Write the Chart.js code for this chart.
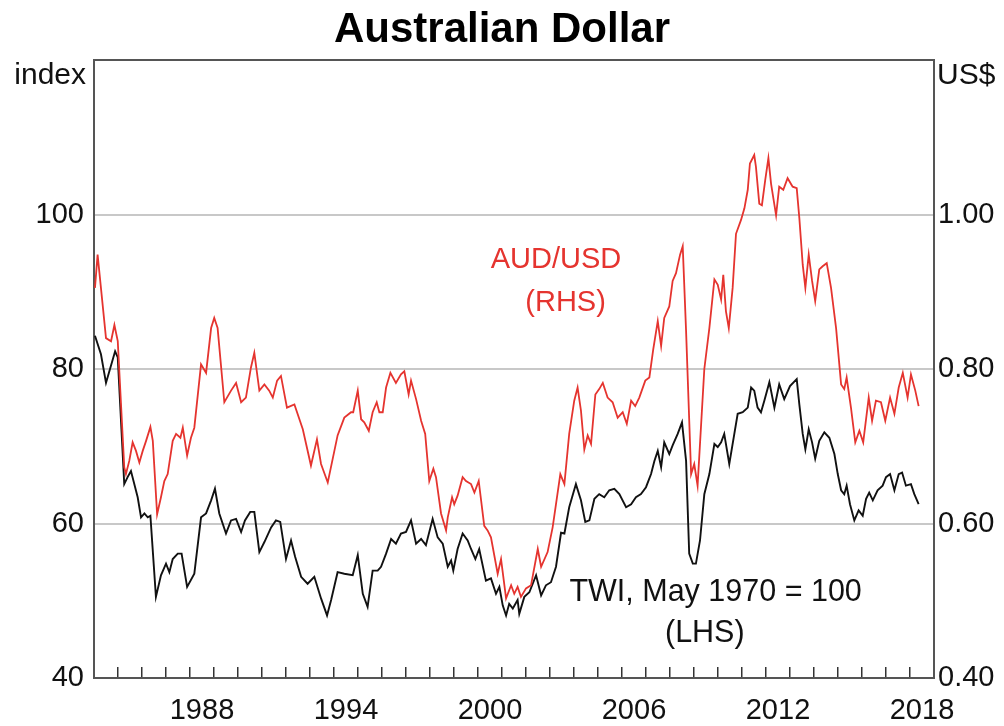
<!DOCTYPE html>
<html>
<head>
<meta charset="utf-8">
<script src="https://cdn.jsdelivr.net/npm/chart.js@4/dist/chart.umd.min.js"></script>
<style>
    body { margin: 0; background: #fff; }
    #wrap { width: 1004px; height: 726px; position: relative; }
</style>
</head>
<body>
<div id="wrap"><canvas id="chart"></canvas></div>
<script>
// 豪ドル（AUD/USD, 右軸）
const audDates = [
    1984.04, 1984.15, 1984.50, 1984.71, 1984.85, 1984.99, 1985.26, 1985.33, 1985.47, 1985.61,
    1985.75, 1985.89, 1986.03, 1986.17, 1986.35, 1986.45, 1986.63, 1986.79, 1986.93, 1987.07,
    1987.28, 1987.42, 1987.60, 1987.70, 1987.88, 1988.04, 1988.18, 1988.46, 1988.67, 1988.88,
    1989.01, 1989.15, 1989.43, 1989.71, 1989.92, 1990.13, 1990.33, 1990.54, 1990.68, 1990.89,
    1991.10, 1991.30, 1991.45, 1991.63, 1991.79, 1992.04, 1992.35, 1992.70, 1993.04, 1993.29,
    1993.46, 1993.74, 1994.15, 1994.43, 1994.71, 1994.80, 1994.99, 1995.13, 1995.26, 1995.45,
    1995.61, 1995.78, 1995.89, 1996.03, 1996.17, 1996.35, 1996.58, 1996.79, 1996.93, 1997.11,
    1997.21, 1997.42, 1997.63, 1997.80, 1997.97, 1998.14, 1998.25, 1998.46, 1998.67, 1998.74,
    1998.92, 1999.01, 1999.15, 1999.36, 1999.50, 1999.71, 1999.85, 2000.03, 2000.26, 2000.40,
    2000.54, 2000.82, 2000.96, 2001.17, 2001.38, 2001.51, 2001.65, 2001.79, 2002.00, 2002.21,
    2002.49, 2002.63, 2002.90, 2003.11, 2003.25, 2003.43, 2003.60, 2003.80, 2004.01, 2004.15,
    2004.29, 2004.43, 2004.57, 2004.71, 2004.89, 2005.05, 2005.20, 2005.40, 2005.61, 2005.82,
    2006.03, 2006.20, 2006.38, 2006.55, 2006.72, 2006.97, 2007.14, 2007.30, 2007.49, 2007.63,
    2007.76, 2007.97, 2008.11, 2008.25, 2008.42, 2008.53, 2008.67, 2008.88, 2009.01, 2009.15,
    2009.43, 2009.64, 2009.85, 2009.99, 2010.13, 2010.22, 2010.33, 2010.45, 2010.61, 2010.75,
    2010.96, 2011.10, 2011.24, 2011.33, 2011.51, 2011.58, 2011.72, 2011.83, 2011.97, 2012.10,
    2012.21, 2012.42, 2012.55, 2012.72, 2012.90, 2013.11, 2013.28, 2013.39, 2013.53, 2013.64,
    2013.78, 2013.92, 2014.05, 2014.22, 2014.36, 2014.53, 2014.71, 2014.92, 2015.13, 2015.26,
    2015.36, 2015.54, 2015.72, 2015.89, 2016.05, 2016.28, 2016.42, 2016.58, 2016.79, 2016.97,
    2017.17, 2017.35, 2017.53, 2017.70, 2017.90, 2018.04, 2018.22, 2018.36
];
const audValues = [
    0.905, 0.948, 0.840, 0.836, 0.857, 0.836, 0.673, 0.664, 0.681, 0.705,
    0.694, 0.679, 0.694, 0.707, 0.725, 0.707, 0.612, 0.634, 0.655, 0.664,
    0.707, 0.716, 0.711, 0.724, 0.688, 0.711, 0.724, 0.806, 0.795, 0.853,
    0.866, 0.853, 0.757, 0.772, 0.782, 0.757, 0.763, 0.802, 0.821, 0.772,
    0.780, 0.772, 0.763, 0.785, 0.791, 0.750, 0.754, 0.722, 0.675, 0.709,
    0.677, 0.653, 0.714, 0.737, 0.744, 0.744, 0.772, 0.735, 0.731, 0.720,
    0.744, 0.757, 0.744, 0.744, 0.776, 0.795, 0.782, 0.793, 0.797, 0.767,
    0.785, 0.761, 0.733, 0.716, 0.655, 0.671, 0.660, 0.613, 0.591, 0.608,
    0.634, 0.625, 0.636, 0.660, 0.655, 0.651, 0.640, 0.655, 0.597, 0.591,
    0.582, 0.535, 0.554, 0.503, 0.520, 0.509, 0.518, 0.505, 0.516, 0.520,
    0.567, 0.544, 0.563, 0.595, 0.625, 0.664, 0.651, 0.716, 0.759, 0.776,
    0.746, 0.696, 0.714, 0.703, 0.767, 0.774, 0.782, 0.763, 0.757, 0.737,
    0.744, 0.729, 0.759, 0.752, 0.763, 0.785, 0.789, 0.825, 0.862, 0.830,
    0.866, 0.881, 0.914, 0.924, 0.948, 0.959, 0.849, 0.664, 0.677, 0.649,
    0.800, 0.853, 0.916, 0.909, 0.890, 0.922, 0.875, 0.853, 0.905, 0.975,
    0.993, 1.008, 1.032, 1.066, 1.077, 1.062, 1.014, 1.012, 1.045, 1.073,
    1.040, 0.999, 1.036, 1.032, 1.047, 1.036, 1.034, 0.995, 0.935, 0.905,
    0.948, 0.914, 0.888, 0.929, 0.933, 0.937, 0.905, 0.853, 0.780, 0.774,
    0.789, 0.750, 0.705, 0.720, 0.705, 0.763, 0.733, 0.759, 0.757, 0.733,
    0.763, 0.742, 0.776, 0.795, 0.763, 0.793, 0.772, 0.752
];

// 貿易加重指数（TWI, 左軸）
const twiDates = [
    1984.04, 1984.29, 1984.50, 1984.64, 1984.88, 1984.99, 1985.26, 1985.40, 1985.54, 1985.82,
    1985.96, 1986.10, 1986.24, 1986.35, 1986.58, 1986.79, 1987.00, 1987.14, 1987.28, 1987.49,
    1987.65, 1987.88, 1988.18, 1988.46, 1988.67, 1988.88, 1989.04, 1989.22, 1989.50, 1989.71,
    1989.92, 1990.13, 1990.29, 1990.51, 1990.68, 1990.89, 1991.10, 1991.38, 1991.58, 1991.76,
    1992.00, 1992.21, 1992.38, 1992.63, 1992.90, 1993.18, 1993.46, 1993.71, 1993.88, 1994.15,
    1994.43, 1994.78, 1994.99, 1995.20, 1995.40, 1995.61, 1995.82, 1995.96, 1996.17, 1996.38,
    1996.58, 1996.79, 1997.00, 1997.21, 1997.42, 1997.63, 1997.83, 1998.11, 1998.32, 1998.53,
    1998.74, 1998.88, 1998.97, 1999.15, 1999.36, 1999.57, 1999.71, 1999.89, 2000.05, 2000.33,
    2000.54, 2000.75, 2000.89, 2001.03, 2001.17, 2001.30, 2001.45, 2001.65, 2001.72, 2001.93,
    2002.14, 2002.42, 2002.63, 2002.83, 2003.04, 2003.25, 2003.46, 2003.60, 2003.80, 2004.08,
    2004.29, 2004.47, 2004.64, 2004.85, 2005.05, 2005.26, 2005.47, 2005.68, 2005.89, 2006.17,
    2006.38, 2006.58, 2006.79, 2007.00, 2007.21, 2007.35, 2007.49, 2007.63, 2007.76, 2007.97,
    2008.11, 2008.32, 2008.50, 2008.67, 2008.80, 2008.95, 2009.08, 2009.25, 2009.43, 2009.64,
    2009.85, 2009.99, 2010.13, 2010.26, 2010.47, 2010.68, 2010.82, 2011.03, 2011.24, 2011.38,
    2011.51, 2011.65, 2011.79, 2011.93, 2012.14, 2012.35, 2012.55, 2012.76, 2013.00, 2013.28,
    2013.39, 2013.53, 2013.64, 2013.78, 2013.92, 2014.05, 2014.22, 2014.43, 2014.64, 2014.85,
    2014.99, 2015.13, 2015.26, 2015.36, 2015.50, 2015.68, 2015.86, 2016.03, 2016.17, 2016.30,
    2016.45, 2016.65, 2016.86, 2017.00, 2017.17, 2017.35, 2017.53, 2017.67, 2017.83, 2018.04,
    2018.18, 2018.36
];
const twiValues = [
    84.3, 81.9, 78.2, 79.7, 82.3, 81.5, 65.1, 66.0, 66.8, 63.4,
    60.8, 61.3, 60.8, 61.0, 50.5, 53.3, 54.8, 53.7, 55.4, 56.1,
    56.1, 51.8, 53.5, 60.8, 61.3, 63.0, 64.5, 61.3, 58.7, 60.4,
    60.6, 58.9, 60.4, 61.5, 61.5, 56.3, 57.6, 59.5, 60.4, 60.2,
    55.4, 57.8, 55.7, 53.1, 52.2, 53.1, 50.3, 48.1, 50.1, 53.7,
    53.5, 53.3, 55.9, 50.9, 49.2, 53.9, 53.9, 54.4, 56.1, 58.0,
    57.4, 58.7, 58.9, 60.4, 57.4, 58.0, 57.2, 60.6, 58.2, 57.4,
    54.4, 55.2, 53.9, 56.7, 58.7, 57.8, 56.7, 55.4, 56.7, 52.6,
    52.9, 50.9, 51.8, 49.4, 48.1, 49.6, 49.0, 50.1, 48.3, 50.5,
    51.1, 53.3, 50.7, 52.0, 52.4, 54.4, 58.8, 58.7, 62.1, 65.1,
    63.0, 60.2, 60.4, 63.2, 63.8, 63.4, 64.3, 64.5, 63.8, 62.1,
    62.5, 63.4, 63.8, 64.7, 66.4, 68.1, 69.4, 67.3, 70.5, 69.0,
    70.1, 71.6, 73.1, 68.1, 56.1, 54.8, 54.8, 57.8, 63.8, 66.4,
    70.3, 69.9, 70.5, 71.6, 67.7, 71.6, 74.2, 74.4, 75.0, 77.6,
    77.2, 75.0, 74.4, 75.9, 78.3, 75.0, 78.0, 76.1, 77.8, 78.7,
    75.4, 71.6, 69.6, 72.2, 70.5, 68.4, 70.7, 71.8, 71.1, 69.0,
    66.4, 64.3, 63.8, 64.9, 62.5, 60.4, 61.7, 61.0, 63.2, 64.0,
    63.0, 64.3, 64.9, 66.0, 66.4, 64.3, 66.4, 66.6, 64.9, 65.1,
    63.8, 62.5
];

// 軸の目盛り
const tickYears = [];
for (let y = 1984; y <= 2019; y++) tickYears.push(y);
const yearLabels = [1988, 1994, 2000, 2006, 2012, 2018];
const lhsTicks = [40, 60, 80, 100, 120];
const rhsTicks = [0.4, 0.6, 0.8, 1.0, 1.2];

const RED = '#e5342f';
const FONT = "'Liberation Sans', Arial, sans-serif";

// 注記テキスト（軸の値で位置指定）
const notes = [
    { text: 'AUD/USD', x: 2003.25, y: 0.941, axis: 'y2', color: RED },
    { text: '(RHS)', x: 2003.65, y: 0.885, axis: 'y2', color: RED },
    { text: 'TWI, May 1970 = 100', x: 2009.9, y: 51.1, axis: 'y', color: '#111' },
    { text: '(LHS)', x: 2009.45, y: 45.8, axis: 'y', color: '#111' }
];

const textPlugin = {
    id: 'textPlugin',
    afterDraw(chart) {
        const ctx = chart.ctx;
        const xs = chart.scales.x;
        const area = chart.chartArea;
        ctx.save();
        ctx.textBaseline = 'middle';
        notes.forEach(n => {
            ctx.font = (n.axis === 'y2' ? '29px ' : '30.5px ') + FONT;
            ctx.fillStyle = n.color;
            ctx.textAlign = 'center';
            ctx.fillText(n.text, xs.getPixelForValue(n.x), chart.scales[n.axis].getPixelForValue(n.y));
        });
        // 単位
        ctx.font = '30px ' + FONT;
        ctx.fillStyle = '#111';
        ctx.textAlign = 'right';
        ctx.fillText('index', area.left - 8, area.top + 16);
        ctx.textAlign = 'left';
        ctx.fillText('US$', area.right + 3, area.top + 16);
        ctx.restore();
    }
};

const frameColor = '#555';

new Chart(document.getElementById('chart'), {
    type: 'line',
    data: {
        datasets: [
            {
                label: 'AUD/USD',
                data: audDates.map((d, i) => ({ x: d, y: audValues[i] })),
                yAxisID: 'y2',
                borderColor: RED,
                borderWidth: 1.8,
                pointRadius: 0,
                tension: 0
            },
            {
                label: 'TWI',
                data: twiDates.map((d, i) => ({ x: d, y: twiValues[i] })),
                yAxisID: 'y',
                borderColor: '#111',
                borderWidth: 1.9,
                pointRadius: 0,
                tension: 0
            }
        ]
    },
    options: {
        responsive: true,
        maintainAspectRatio: false,
        animation: false,
        layout: { padding: 0 },
        plugins: {
            legend: { display: false },
            tooltip: { enabled: false },
            title: {
                display: true,
                text: 'Australian Dollar',
                color: '#000',
                font: { family: FONT, size: 42, weight: 'bold', lineHeight: 1.2 },
                padding: { top: 5, bottom: 4.6 }
            }
        },
        scales: {
            x: {
                type: 'linear',
                min: 1984,
                max: 2019,
                afterBuildTicks: scale => { scale.ticks = tickYears.map(v => ({ value: v })); },
                afterFit: scale => { scale.height = 48; },
                ticks: {
                    autoSkip: false,
                    maxRotation: 0,
                    minRotation: 0,
                    labelOffset: 12,
                    padding: 27,
                    color: '#111',
                    font: { family: FONT, size: 29 },
                    callback: v => yearLabels.includes(v) ? String(v) : ''
                },
                grid: {
                    drawOnChartArea: false,
                    drawTicks: true,
                    tickLength: -11,
                    color: '#333',
                    lineWidth: 1.5
                },
                border: { display: true, color: frameColor, width: 2 }
            },
            y: {
                position: 'left',
                min: 40,
                max: 120,
                afterBuildTicks: scale => { scale.ticks = lhsTicks.map(v => ({ value: v })); },
                afterFit: scale => { scale.width = 94; },
                ticks: {
                    padding: 10,
                    color: '#111',
                    font: { family: FONT, size: 29 },
                    callback: v => v === 120 ? '' : String(v)
                },
                grid: {
                    drawTicks: false,
                    lineWidth: 2,
                    color: c => (c.tick && (c.tick.value === 120 || c.tick.value === 40)) ? frameColor : '#c8c8c8'
                },
                border: { display: true, color: frameColor, width: 2 }
            },
            y2: {
                position: 'right',
                min: 0.4,
                max: 1.2,
                afterBuildTicks: scale => { scale.ticks = rhsTicks.map(v => ({ value: v })); },
                afterFit: scale => { scale.width = 70; },
                ticks: {
                    padding: 4,
                    color: '#111',
                    font: { family: FONT, size: 29 },
                    callback: v => Math.abs(v - 1.2) < 1e-6 ? '' : v.toFixed(2)
                },
                grid: { drawOnChartArea: false, drawTicks: false },
                border: { display: true, color: frameColor, width: 2 }
            }
        }
    },
    plugins: [textPlugin]
});
</script>
</body>
</html>
